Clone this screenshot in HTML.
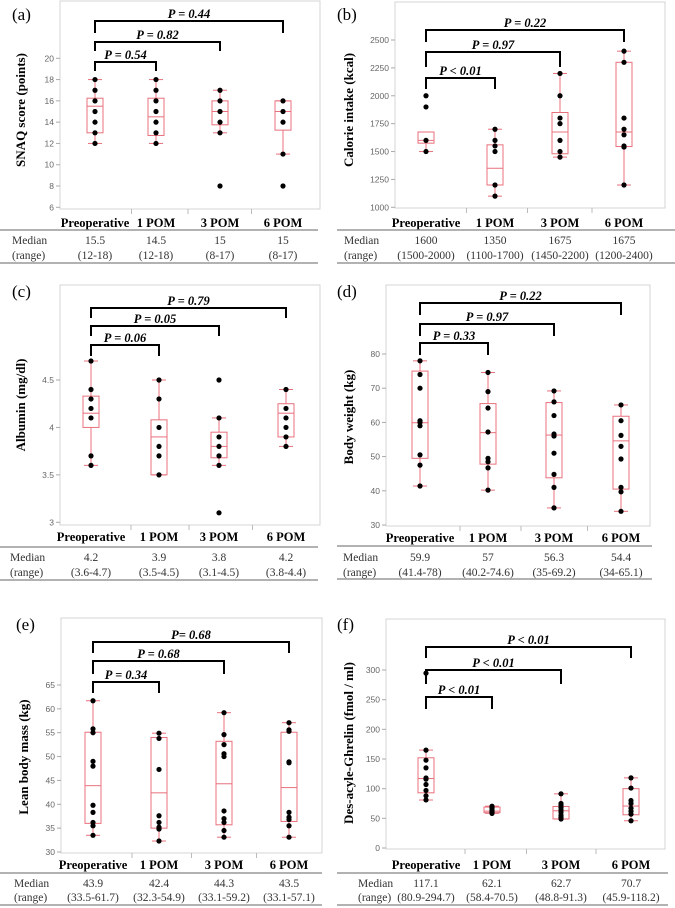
<!DOCTYPE html>
<html><head><meta charset="utf-8"><style>
html,body{margin:0;padding:0;background:#fff}
svg{display:block}
</style></head><body>
<svg id="fig" width="675" height="908" viewBox="0 0 675 908" xmlns="http://www.w3.org/2000/svg"></svg>
<script>
// ---- data ----
const categories = ["Preoperative","1 POM","3 POM","6 POM"];
// panel a: SNAQ
const aPoints = [[18,17,16,15,14,13,12],[18,17,16,15,14,13,12],[17,16,15,14,13,8],[16,15,14,11,8]];
const aBoxes = [[12,13,15.5,16.25,18],[12,12.75,14.5,16.25,18],[13,13.75,15,16,17],[11,13.25,15,16,16]];
const aTicks = [6,8,10,12,14,16,18,20];
const aMedian = ["15.5","14.5","15","15"];
const aRange = ["(12-18)","(12-18)","(8-17)","(8-17)"];
const aP = ["P = 0.54","P = 0.82","P = 0.44"];
// panel b: calorie
const bPoints = [[2000,1900,1600,1500],[1700,1600,1550,1500,1200,1100],[2200,2000,1800,1750,1600,1500,1450],[2400,2300,1800,1700,1650,1550,1540,1200]];
const bBoxes = [[1500,1575,1600,1675,1675],[1100,1200,1350,1560,1700],[1450,1480,1675,1850,2200],[1200,1545,1675,2300,2400]];
const bTicks = [1000,1250,1500,1750,2000,2250,2500];
const bMedian = ["1600","1350","1675","1675"];
const bRange = ["(1500-2000)","(1100-1700)","(1450-2200)","(1200-2400)"];
const bP = ["P < 0.01","P = 0.97","P = 0.22"];
// panel c: albumin
const cPoints = [[4.7,4.4,4.3,4.2,4.1,3.7,3.6],[4.5,4.3,4.0,3.8,3.7,3.5],[4.5,4.1,3.9,3.8,3.7,3.6,3.1],[4.4,4.2,4.1,4.0,3.9,3.8]];
const cBoxes = [[3.6,4.0,4.15,4.33,4.7],[3.5,3.5,3.9,4.08,4.5],[3.6,3.68,3.8,3.95,4.1],[3.8,3.9,4.15,4.25,4.4]];
const cTicks = [3,3.5,4,4.5];
const cMedian = ["4.2","3.9","3.8","4.2"];
const cRange = ["(3.6-4.7)","(3.5-4.5)","(3.1-4.5)","(3.8-4.4)"];
const cP = ["P = 0.06","P = 0.05","P = 0.79"];
// panel d: body weight
const dPoints = [[78,74,70,60.5,60,59,50.5,47.5,41.4],[74.6,69,64.2,57.2,49.5,48.5,46.7,40.2],[69.2,66,62,56.6,56,51,44.8,41,35],[65.1,60.5,56.2,53,49.3,41,39.7,34]];
const dBoxes = [[41.4,49.5,59.9,75,78],[40.2,47.8,57,65.5,74.6],[35,43.8,56.3,65.8,69.2],[34,40.5,54.6,61.8,65.1]];
const dTicks = [30,40,50,60,70,80];
const dMedian = ["59.9","57","56.3","54.4"];
const dRange = ["(41.4-78)","(40.2-74.6)","(35-69.2)","(34-65.1)"];
const dP = ["P = 0.33","P = 0.97","P = 0.22"];
// panel e: lean body mass
const ePoints = [[61.7,55.8,55,49,48,39.8,38.3,36.2,35.5,33.5],[54.9,53.8,47.3,37.6,36.2,35.2,34.8,32.3],[59.2,54.6,52.5,50.6,50,38.6,37,36.2,34.5,33.1],[57.1,55.6,55.3,48.9,48.7,38.3,37.3,36.8,35.5,33.1]];
const eBoxes = [[33.5,36,43.9,55.1,61.7],[32.3,35,42.4,54,54.9],[33.1,35.7,44.3,53.2,59.2],[33.1,36.4,43.5,55.1,57.1]];
const eTicks = [30,35,40,45,50,55,60,65];
const eMedian = ["43.9","42.4","44.3","43.5"];
const eRange = ["(33.5-61.7)","(32.3-54.9)","(33.1-59.2)","(33.1-57.1)"];
const eP = ["P = 0.34","P = 0.68","P= 0.68"];
// panel f: des-acyl ghrelin
const fPoints = [[294.7,165,148,135,118,116,107,97,88,81],[70.5,68,66,63,62,60,58.4],[91.3,75,72,68,64,60,55,52,48.8],[118.2,101,80,75,67,62,57,45.9]];
const fBoxes = [[80.9,93,117.1,152,165],[58.4,59.5,62.1,69,70.5],[48.8,49,62.7,70,91.3],[45.9,56,70.7,100,118.2]];
const fTicks = [0,50,100,150,200,250,300];
const fMedian = ["117.1","62.1","62.7","70.7"];
const fRange = ["(80.9-294.7)","(58.4-70.5)","(48.8-91.3)","(45.9-118.2)"];
const fP = ["P < 0.01","P < 0.01","P < 0.01"];

// ---- layout ----
const panels = [
 {id:"a",lab:"(a)",lx:12,ly:20,title:"SNAQ score (points)",tx:22,ty:110,
  frame:[60,1,320,209],y0:6,y0px:207.3,y1:20,y1px:58.3,cx:[95,156,220,283],
  pts:aPoints,box:aBoxes,ticks:aTicks,med:aMedian,rng:aRange,P:aP,
  br:[[62,71],[42,51],[21,33]],catY:227,tl:[0,318,230,263],medY:244,rngY:259,mlx:12},
 {id:"b",lab:"(b)",lx:337,ly:20,title:"Calorie intake (kcal)",tx:350,ty:110,
  frame:[395,2,665,208],y0:1000,y0px:207.3,y1:2500,y1px:40,cx:[426,495,560,624],
  pts:bPoints,box:bBoxes,ticks:bTicks,med:bMedian,rng:bRange,P:bP,
  br:[[78,89],[52,67],[30,42]],catY:227,tl:[337,675,230,263],medY:244,rngY:259,mlx:344},
 {id:"c",lab:"(c)",lx:12,ly:297,title:"Albumin (mg/dl)",tx:22,ty:405,
  frame:[60,285,320,525],y0:3,y0px:522.3,y1:4.5,y1px:380,cx:[91,159,219,286],
  pts:cPoints,box:cBoxes,ticks:cTicks,med:cMedian,rng:cRange,P:cP,
  br:[[345,356],[326,336],[308,318]],catY:541,tl:[0,318,547,580],medY:561,rngY:576,mlx:10},
 {id:"d",lab:"(d)",lx:337,ly:297,title:"Body weight (kg)",tx:350,ty:417,
  frame:[386,285,650,526],y0:30,y0px:525,y1:80,y1px:354,cx:[420,488,554,621],
  pts:dPoints,box:dBoxes,ticks:dTicks,med:dMedian,rng:dRange,P:dP,
  br:[[343,355],[324,336],[303,315]],catY:542,tl:[337,652,546,579],medY:561,rngY:576,mlx:343},
 {id:"e",lab:"(e)",lx:16,ly:630,title:"Lean body mass (kg)",tx:25,ty:757,
  frame:[61,618,322,853],y0:30,y0px:852,y1:65,y1px:685,cx:[93,159,224,289],
  pts:ePoints,box:eBoxes,ticks:eTicks,med:eMedian,rng:eRange,P:eP,
  br:[[682,693],[661,674],[642,653]],catY:869,tl:[0,322,873,905],medY:887,rngY:901,mlx:14},
 {id:"f",lab:"(f)",lx:337,ly:630,title:"Des-acyle-Ghrelin (fmol / ml)",tx:350,ty:743,
  frame:[386,619,665,849],y0:0,y0px:848,y1:300,y1px:670,cx:[426,492,561,631],
  pts:fPoints,box:fBoxes,ticks:fTicks,med:fMedian,rng:fRange,P:fP,
  br:[[697,709],[670,684],[647,658]],catY:869,tl:[337,668,873,905],medY:887,rngY:901,mlx:358}
];

const NS="http://www.w3.org/2000/svg";
const svg=document.getElementById("fig");
const SERIF="'Liberation Serif', serif";
const SANS="'Liberation Sans', sans-serif";
function mk(tag,attrs,parent,text){
  const e=document.createElementNS(NS,tag);
  for(const k in attrs)e.setAttribute(k,attrs[k]);
  if(text!==undefined)e.textContent=text;
  (parent||svg).appendChild(e);return e;
}
const RED="#e8707c";
panels.forEach(p=>{
  const g=mk("g",{});
  
  
  const ys=v=>p.y0px+(v-p.y0)*(p.y1px-p.y0px)/(p.y1-p.y0);
  const [fx0,fy0,fx1,fy1]=p.frame;
  const fr=mk("rect",{x:fx0,y:fy0,width:fx1-fx0,height:fy1-fy0,fill:"none",stroke:"#d4d4d4","stroke-width":1},g);
  
  
  const pl=mk("text",{x:p.lx,y:p.ly,"font-family":SERIF,"font-size":17,fill:"#000"},g,p.lab);
  
  
  p.ticks.forEach(t=>{
    const y=ys(t);
    const tk=mk("line",{x1:fx0-4,x2:fx0,y1:y,y2:y,stroke:"#aaa","stroke-width":1},g);
    
    
    const tl=mk("text",{x:fx0-6,y:y+3,"text-anchor":"end","font-family":SANS,"font-size":8.5,fill:"#666"},g,String(t));
    
    
  });
  for(let i=0;i<3;i++){
    const x=(p.cx[i]+p.cx[i+1])/2+ (i===0?6:0);
    const sx=mk("line",{x1:x,x2:x,y1:fy1,y2:fy1+5,stroke:"#bbb","stroke-width":1},g);
    
    
  }
  const yt=mk("text",{x:p.tx,y:p.ty,transform:`rotate(-90 ${p.tx} ${p.ty})`,"text-anchor":"middle","dominant-baseline":"middle","font-family":SERIF,"font-weight":"bold","font-size":13,fill:"#000"},g,p.title);
  
  
  p.box.forEach((b,i)=>{
    const cx=p.cx[i],hw=8,cw=7;
    const bg=mk("g",{},g);
    
    
    mk("line",{x1:cx,x2:cx,y1:ys(b[0]),y2:ys(b[1]),stroke:RED,"stroke-width":1},bg);
    mk("line",{x1:cx,x2:cx,y1:ys(b[3]),y2:ys(b[4]),stroke:RED,"stroke-width":1},bg);
    mk("line",{x1:cx-cw,x2:cx+cw,y1:ys(b[0]),y2:ys(b[0]),stroke:RED,"stroke-width":1},bg);
    mk("line",{x1:cx-cw,x2:cx+cw,y1:ys(b[4]),y2:ys(b[4]),stroke:RED,"stroke-width":1},bg);
    mk("rect",{x:cx-hw,y:ys(b[3]),width:hw*2,height:ys(b[1])-ys(b[3]),fill:"none",stroke:RED,"stroke-width":1},bg);
    mk("line",{x1:cx-hw,x2:cx+hw,y1:ys(b[2]),y2:ys(b[2]),stroke:RED,"stroke-width":1},bg);
    p.pts[i].forEach(v=>{
      const c=mk("circle",{cx:cx,cy:ys(v),r:2.6,fill:"#000"},bg);
      
      
    });
    const cl=mk("text",{x:cx,y:p.catY,"text-anchor":"middle","font-family":SERIF,"font-weight":"bold","font-size":12.5,fill:"#000"},g,categories[i]);
    
    
    const mt=mk("text",{x:cx,y:p.medY,"text-anchor":"middle","font-family":SERIF,"font-size":11.5,fill:"#333"},g,p.med[i]);
    
    
    const rt=mk("text",{x:cx,y:p.rngY,"text-anchor":"middle","font-family":SERIF,"font-size":11.5,fill:"#333"},g,p.rng[i]);
    
    
  });
  p.br.forEach((br,k)=>{
    const x0=p.cx[0],x1=p.cx[k+1];
    const bk=mk("path",{d:`M${x0},${br[1]} L${x0},${br[0]} L${x1},${br[0]} L${x1},${br[1]}`,fill:"none",stroke:"#000","stroke-width":2},g);
    
    
    const pt=mk("text",{x:(x0+x1)/2,y:br[0]-3,"text-anchor":"middle","font-family":SERIF,"font-weight":"bold","font-style":"italic","font-size":12.5,fill:"#000"},g,p.P[k]);
    
    
  });
  const [tx0,tx1,ty0,ty1]=p.tl;
  const l1=mk("line",{x1:tx0,x2:tx1,y1:ty0,y2:ty0,stroke:"#999","stroke-width":1.5},g);
  
  
  const l2=mk("line",{x1:tx0,x2:tx1,y1:ty1,y2:ty1,stroke:"#999","stroke-width":1.5},g);
  
  
  const m1=mk("text",{x:p.mlx,y:p.medY,"font-family":SERIF,"font-size":11.5,fill:"#333"},g,"Median");
  
  
  const m2=mk("text",{x:p.mlx,y:p.rngY,"font-family":SERIF,"font-size":11.5,fill:"#333"},g,"(range)");
  
  
});
</script>
</body></html>
